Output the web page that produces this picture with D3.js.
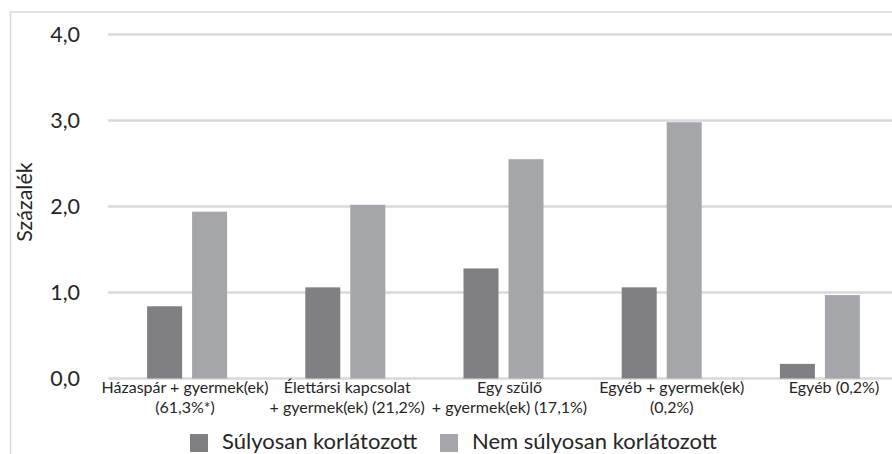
<!DOCTYPE html>
<html>
<head>
<meta charset="utf-8">
<script src="https://cdn.jsdelivr.net/npm/d3@7"></script>
<style>
  html, body { margin: 0; padding: 0; background: #ffffff; }
  svg { display: block; }
  text { font-family: Lato, "Open Sans", sans-serif; fill: #262626; }
</style>
</head>
<body>
<svg id="chart" width="892" height="454"></svg>
<script>
// ---- data ----
const categories = [
  ["Házaspár + gyermek(ek)", "(61,3%*)"],
  ["Élettársi kapcsolat", "+ gyermek(ek) (21,2%)"],
  ["Egy szülő", "+ gyermek(ek) (17,1%)"],
  ["Egyéb + gyermek(ek)", "(0,2%)"],
  ["Egyéb (0,2%)"]
];
const seriesNames = ["Súlyosan korlátozott", "Nem súlyosan korlátozott"];
const severe    = [0.84, 1.06, 1.28, 1.06, 0.17];
const nonSevere = [1.94, 2.02, 2.55, 2.98, 0.97];
const yTicks = [0, 1, 2, 3, 4];
const yTitle = "Százalék";

const colors = ["#808083", "#a5a6aa"];
const catKeys = categories.map((c, i) => "c" + i);
const rows = catKeys.map((k, i) => ({ key: k, values: [severe[i], nonSevere[i]] }));

const svg = d3.select("#chart");

// outer chart border (cropped)
svg.append("path")
  .attr("d", "M10.5,460 L10.5,12 L900,12")
  .attr("fill", "none")
  .attr("stroke", "#d9d9d9")
  .attr("stroke-width", 1.5);

const y = d3.scaleLinear().domain([0, 4]).range([378.5, 34.5]);
const x0 = d3.scaleBand().domain(catKeys).range([108, 899]);
const x1 = d3.scaleBand().domain([0, 1]).range([0, 80]).paddingInner(10 / 45);
const xLab = d3.scalePoint().domain(catKeys).range([185, 834]);

// gridlines
svg.append("g").selectAll("line")
  .data(yTicks)
  .join("line")
  .attr("x1", 108).attr("x2", 900)
  .attr("y1", d => y(d)).attr("y2", d => y(d))
  .attr("stroke", "#d9d9d9")
  .attr("stroke-width", 2.4);

// y axis labels
const yAxis = d3.axisLeft(y).tickValues(yTicks)
  .tickFormat(d => d3.format(".1f")(d).replace(".", ","))
  .tickSize(0).tickPadding(0);
const ya = svg.append("g").attr("transform", "translate(80,0)").call(yAxis);
ya.select(".domain").remove();
ya.selectAll("text")
  .attr("font-family", "Lato, sans-serif")
  .attr("font-size", 21.5)
  .attr("fill", "#262626");

// y title
svg.append("text")
  .attr("transform", "translate(32,202) rotate(-90)")
  .attr("text-anchor", "middle")
  .attr("font-size", 21.5)
  .text(yTitle);

// bars
const groups = svg.append("g").selectAll("g")
  .data(rows)
  .join("g")
  .attr("transform", d => `translate(${x0(d.key) + x0.bandwidth() / 2 - 40},0)`);

groups.selectAll("rect")
  .data(d => d.values.map((v, j) => ({ v, j })))
  .join("rect")
  .attr("x", d => x1(d.j))
  .attr("width", x1.bandwidth())
  .attr("y", d => y(d.v))
  .attr("height", d => y(0) - y(d.v))
  .attr("fill", d => colors[d.j]);

// category labels
const labs = svg.append("g").selectAll("text")
  .data(categories)
  .join("text")
  .attr("text-anchor", "middle")
  .attr("font-size", 16)
  .attr("x", (d, i) => xLab(catKeys[i]))
  .attr("y", 393);
labs.selectAll("tspan")
  .data(d => d)
  .join("tspan")
  .attr("x", function () { return d3.select(this.parentNode).attr("x"); })
  .attr("dy", (d, i) => i === 0 ? 0 : 20)
  .text(d => d);

// legend
const legendX = [190, 440];
const lg = svg.append("g").selectAll("g")
  .data(seriesNames)
  .join("g")
  .attr("transform", (d, i) => `translate(${legendX[i]},434)`);
lg.append("rect").attr("width", 18).attr("height", 18).attr("fill", (d, i) => colors[i]);
lg.append("text").attr("x", 32).attr("y", 15).attr("font-size", 22).text(d => d);
</script>
</body>
</html>
